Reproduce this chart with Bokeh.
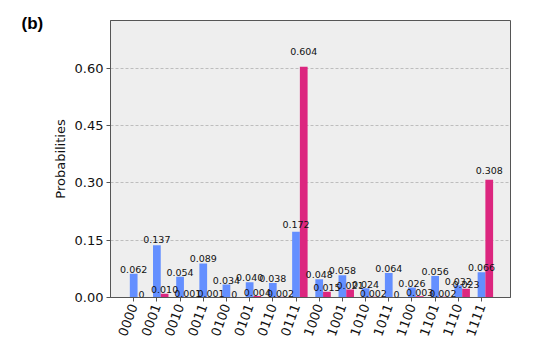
import math
from bokeh.plotting import figure
from bokeh.models import ColumnDataSource, Range1d, FixedTicker, LabelSet
from bokeh.core.properties import value
from bokeh.embed import file_html
from bokeh.resources import INLINE

states = ["0000", "0001", "0010", "0011", "0100", "0101", "0110", "0111",
          "1000", "1001", "1010", "1011", "1100", "1101", "1110", "1111"]
prob_blue = [0.062, 0.137, 0.054, 0.089, 0.034, 0.040, 0.038, 0.172,
             0.048, 0.058, 0.024, 0.064, 0.026, 0.056, 0.032, 0.066]
prob_pink = [0.0, 0.010, 0.001, 0.001, 0.0, 0.004, 0.002, 0.604,
             0.015, 0.021, 0.002, 0.0, 0.003, 0.002, 0.023, 0.308]
y_ticks = [0.0, 0.15, 0.30, 0.45, 0.60]
y_tick_labels = ["0.00", "0.15", "0.30", "0.45", "0.60"]
panel_tag = "(b)"

BLUE = "#648fff"
PINK = "#dc267f"
bar_w = 1.0 / 3.0
n = len(states)
ymax = max(prob_blue + prob_pink) * 1.2


def fmt(v):
    return "0" if v == 0 else f"{v:.3f}"


src_blue = ColumnDataSource(dict(
    x=[i for i in range(n)], top=prob_blue,
    ly=[v * 1.05 for v in prob_blue], txt=[fmt(v) for v in prob_blue]))
src_pink = ColumnDataSource(dict(
    x=[i + bar_w for i in range(n)], top=prob_pink,
    ly=[v * 1.05 for v in prob_pink], txt=[fmt(v) for v in prob_pink]))

p = figure(width=540, height=344, x_range=Range1d(-1.0, 16.25),
           y_range=Range1d(0, ymax), output_backend="svg",
           toolbar_location=None, min_border_left=110, min_border_right=30,
           min_border_top=20, min_border_bottom=47, title=panel_tag)

p.title.align = "left"
p.title.offset = -89
p.title.standoff = -24
p.title.text_font = "Liberation Sans"
p.title.text_font_style = "bold"
p.title.text_font_size = "17px"
p.title.text_color = "#000000"
p.title.vertical_align = "bottom"

p.border_fill_color = "#ffffff"
p.background_fill_color = "#eeeeee"
p.outline_line_color = "#555555"
p.outline_line_width = 1

p.vbar(x="x", top="top", width=bar_w, source=src_blue, fill_color=BLUE, line_color=None)
p.vbar(x="x", top="top", width=bar_w, source=src_pink, fill_color=PINK, line_color=None)

for src in (src_blue, src_pink):
    p.add_layout(LabelSet(x="x", y="ly", text="txt", source=src,
                          text_align="center", text_baseline="bottom",
                          text_font=value("DejaVu Sans"), text_font_size="9.5px",
                          text_color="#111111"))

p.xgrid.visible = False
p.ygrid.grid_line_color = "#b0b0b0"
p.ygrid.grid_line_dash = "3 2"
p.ygrid.grid_line_width = 0.8

p.yaxis.ticker = FixedTicker(ticks=y_ticks)
p.yaxis.major_label_overrides = {t: s for t, s in zip(y_ticks, y_tick_labels)}
p.yaxis.axis_label = "Probabilities"
p.xaxis.ticker = FixedTicker(ticks=list(range(n)))
p.xaxis.major_label_overrides = {i: s for i, s in enumerate(states)}
p.xaxis.major_label_orientation = math.radians(70)

for ax in (p.xaxis, p.yaxis):
    ax.axis_line_color = "#555555"
    ax.major_tick_line_color = "#555555"
    ax.major_tick_in = 0
    ax.major_tick_out = 4
    ax.minor_tick_line_color = None
    ax.major_label_text_font = "DejaVu Sans"
    ax.major_label_text_font_size = "13px"
    ax.major_label_text_color = "#111111"
    ax.major_label_standoff = 3
    ax.axis_label_text_font = "DejaVu Sans"
    ax.axis_label_text_font_size = "13px"
    ax.axis_label_text_font_style = "normal"
    ax.axis_label_text_color = "#111111"
p.yaxis.axis_label_standoff = 4

open("out.html", "w").write(file_html(p, INLINE))
